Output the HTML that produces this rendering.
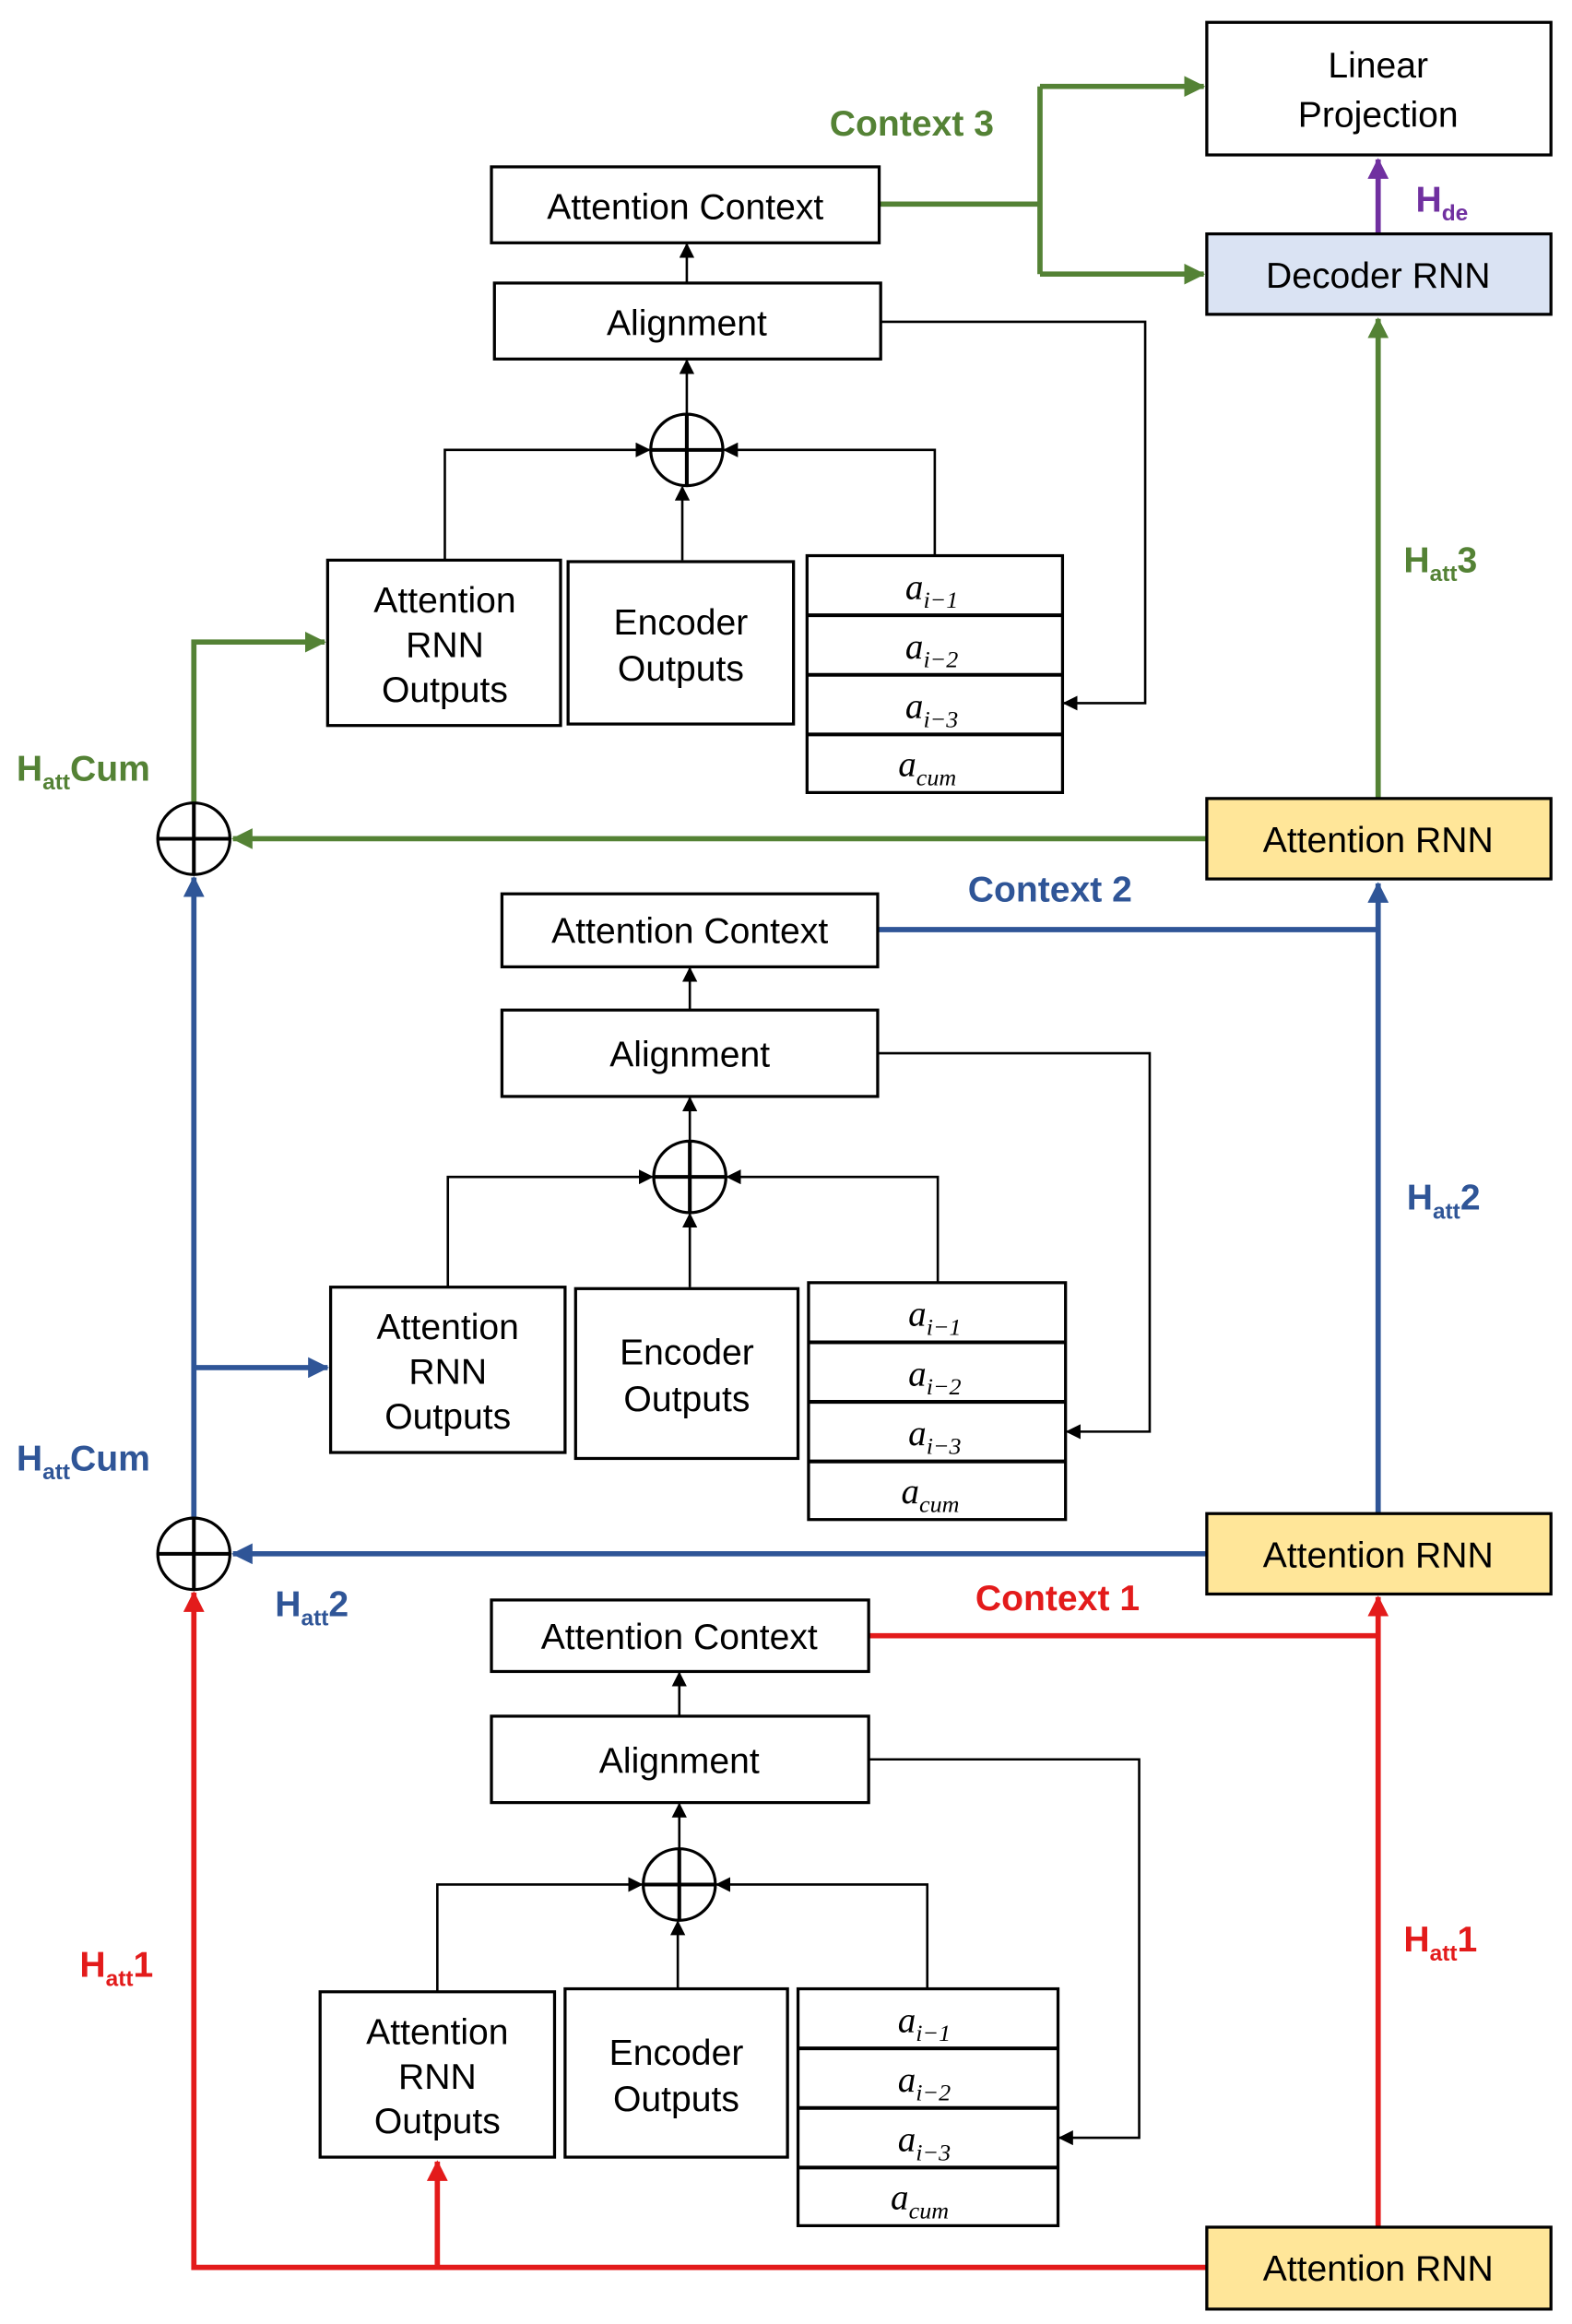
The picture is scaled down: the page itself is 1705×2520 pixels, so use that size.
<!DOCTYPE html>
<html><head><meta charset="utf-8"><style>html,body{margin:0;padding:0;background:#fff}svg{display:block}</style></head><body>
<svg width="1705" height="2520" viewBox="0 0 1046 1560" preserveAspectRatio="none" xmlns="http://www.w3.org/2000/svg" font-family="Liberation Sans, sans-serif">
<defs>
<marker id="k" markerWidth="10" markerHeight="10" refX="9" refY="5" orient="auto" markerUnits="userSpaceOnUse"><path d="M0,0 L10,5 L0,10 Z" fill="#000"/></marker>
<marker id="g" markerWidth="14" markerHeight="14" refX="13" refY="7" orient="auto" markerUnits="userSpaceOnUse"><path d="M0,0 L14,7 L0,14 Z" fill="#548235"/></marker>
<marker id="b" markerWidth="14" markerHeight="14" refX="13" refY="7" orient="auto" markerUnits="userSpaceOnUse"><path d="M0,0 L14,7 L0,14 Z" fill="#2f5597"/></marker>
<marker id="r" markerWidth="14" markerHeight="14" refX="13" refY="7" orient="auto" markerUnits="userSpaceOnUse"><path d="M0,0 L14,7 L0,14 Z" fill="#e31b1b"/></marker>
<marker id="p" markerWidth="14" markerHeight="14" refX="13" refY="7" orient="auto" markerUnits="userSpaceOnUse"><path d="M0,0 L14,7 L0,14 Z" fill="#7030a0"/></marker>
</defs>
<g fill="none" stroke-width="3.5">
<!-- green -->
<path d="M585,137 H692 M692,58 V184" stroke="#548235"/>
<path d="M692,58 H801" stroke="#548235" marker-end="url(#g)"/>
<path d="M692,184 H801" stroke="#548235" marker-end="url(#g)"/>
<path d="M917,536 V214" stroke="#548235" marker-end="url(#g)"/>
<path d="M803,563 H155" stroke="#548235" marker-end="url(#g)"/>
<path d="M129,539 V431 H216" stroke="#548235" marker-end="url(#g)"/>
<path d="M917,157 V107" stroke="#7030a0" marker-end="url(#p)"/>
<!-- blue -->
<path d="M584,624 H917" stroke="#2f5597"/>
<path d="M917,1016 V593" stroke="#2f5597" marker-end="url(#b)"/>
<path d="M803,1043 H155" stroke="#2f5597" marker-end="url(#b)"/>
<path d="M129,1019 V589" stroke="#2f5597" marker-end="url(#b)"/>
<path d="M129,918 H218" stroke="#2f5597" marker-end="url(#b)"/>
<!-- red -->
<path d="M578,1098 H917" stroke="#e31b1b"/>
<path d="M917,1495 V1072" stroke="#e31b1b" marker-end="url(#r)"/>
<path d="M803,1522 H129 V1069" stroke="#e31b1b" marker-end="url(#r)"/>
<path d="M291,1522 V1451" stroke="#e31b1b" marker-end="url(#r)"/>
</g>
<g fill="none" stroke="#000" stroke-width="1.6">
<!-- top block -->
<path d="M457,190 V164" marker-end="url(#k)"/>
<path d="M457,278 V242" marker-end="url(#k)"/>
<path d="M296,376 V302 H432" marker-end="url(#k)"/>
<path d="M622,373 V302 H482" marker-end="url(#k)"/>
<path d="M454,376 V327" marker-end="url(#k)"/>
<path d="M586,216 H762 V472 H708" marker-end="url(#k)"/>
<!-- middle -->
<path d="M459,678 V650" marker-end="url(#k)"/>
<path d="M459,766 V737" marker-end="url(#k)"/>
<path d="M298,864 V790 H434" marker-end="url(#k)"/>
<path d="M624,861 V790 H484" marker-end="url(#k)"/>
<path d="M459,864 V815" marker-end="url(#k)"/>
<path d="M584,707 H765 V961 H710" marker-end="url(#k)"/>
<!-- bottom -->
<path d="M452,1152 V1123" marker-end="url(#k)"/>
<path d="M452,1241 V1211" marker-end="url(#k)"/>
<path d="M291,1337 V1265 H427" marker-end="url(#k)"/>
<path d="M617,1335 V1265 H477" marker-end="url(#k)"/>
<path d="M451,1335 V1290" marker-end="url(#k)"/>
<path d="M578,1181 H758 V1435 H705" marker-end="url(#k)"/>
</g>
<g stroke="#000" stroke-width="2" fill="#fff">
<rect x="803" y="15" width="229" height="89"/>
<rect x="803" y="157" width="229" height="54" fill="#dae3f3"/>
<rect x="327" y="112" width="258" height="51"/>
<rect x="329" y="190" width="257" height="51"/>
<rect x="218" y="376" width="155" height="111"/>
<rect x="378" y="377" width="150" height="109"/>
<rect x="537" y="373" width="170" height="159"/>
<rect x="803" y="536" width="229" height="54" fill="#ffe699"/>
<rect x="334" y="600" width="250" height="49"/>
<rect x="334" y="678" width="250" height="58"/>
<rect x="220" y="864" width="156" height="111"/>
<rect x="383" y="865" width="148" height="114"/>
<rect x="538" y="861" width="171" height="159"/>
<rect x="803" y="1016" width="229" height="54" fill="#ffe699"/>
<rect x="327" y="1074" width="251" height="48"/>
<rect x="327" y="1152" width="251" height="58"/>
<rect x="213" y="1337" width="156" height="111"/>
<rect x="376" y="1335" width="148" height="113"/>
<rect x="531" y="1335" width="173" height="159"/>
<rect x="803" y="1495" width="229" height="55" fill="#ffe699"/>
<circle cx="457" cy="302" r="24"/><circle cx="459" cy="790" r="24"/><circle cx="452" cy="1265" r="24"/>
<circle cx="129" cy="563" r="24"/><circle cx="129" cy="1043" r="24"/>
</g>
<g stroke="#000" stroke-width="2.5">
<path d="M537,413 H707 M537,453 H707 M537,493 H707"/>
<path d="M538,901 H709 M538,941 H709 M538,981 H709"/>
<path d="M531,1375 H704 M531,1415 H704 M531,1455 H704"/>
<path d="M433,302 H481 M457,278 V326 M435,790 H483 M459,766 V814 M428,1265 H476 M452,1241 V1289"/>
<path d="M105,563 H153 M129,539 V587 M105,1043 H153 M129,1019 V1067"/>
</g>
<g font-size="24" text-anchor="middle" fill="#000">
<text x="917" y="52">Linear</text><text x="917" y="85">Projection</text>
<text x="917" y="193">Decoder RNN</text>
<text x="456" y="147">Attention Context</text>
<text x="457" y="225">Alignment</text>
<text x="296" y="411">Attention</text><text x="296" y="441">RNN</text><text x="296" y="471">Outputs</text>
<text x="453" y="426">Encoder</text><text x="453" y="457">Outputs</text>
<text x="917" y="572">Attention RNN</text>
<text x="459" y="633">Attention Context</text>
<text x="459" y="716">Alignment</text>
<text x="298" y="899">Attention</text><text x="298" y="929">RNN</text><text x="298" y="959">Outputs</text>
<text x="457" y="916">Encoder</text><text x="457" y="947">Outputs</text>
<text x="917" y="1052">Attention RNN</text>
<text x="452" y="1107">Attention Context</text>
<text x="452" y="1190">Alignment</text>
<text x="291" y="1372">Attention</text><text x="291" y="1402">RNN</text><text x="291" y="1432">Outputs</text>
<text x="450" y="1386">Encoder</text><text x="450" y="1417">Outputs</text>
<text x="917" y="1531">Attention RNN</text>
</g>
<g font-family="Liberation Serif, serif" font-style="italic" font-size="24" text-anchor="middle">
<text x="620" y="402">a<tspan font-size="16" dy="6">i−1</tspan></text>
<text x="620" y="442">a<tspan font-size="16" dy="6">i−2</tspan></text>
<text x="620" y="482">a<tspan font-size="16" dy="6">i−3</tspan></text>
<text x="617" y="521">a<tspan font-size="16" dy="6">cum</tspan></text>
<text x="622" y="890">a<tspan font-size="16" dy="6">i−1</tspan></text>
<text x="622" y="930">a<tspan font-size="16" dy="6">i−2</tspan></text>
<text x="622" y="970">a<tspan font-size="16" dy="6">i−3</tspan></text>
<text x="619" y="1009">a<tspan font-size="16" dy="6">cum</tspan></text>
<text x="615" y="1364">a<tspan font-size="16" dy="6">i−1</tspan></text>
<text x="615" y="1404">a<tspan font-size="16" dy="6">i−2</tspan></text>
<text x="615" y="1444">a<tspan font-size="16" dy="6">i−3</tspan></text>
<text x="612" y="1483">a<tspan font-size="16" dy="6">cum</tspan></text>
</g>
<g font-size="24" font-weight="bold">
<text x="552" y="91" fill="#548235">Context 3</text>
<text x="942" y="142" fill="#7030a0">H<tspan font-size="15" dy="6">de</tspan></text>
<text x="934" y="384" fill="#548235">H<tspan font-size="15" dy="6">att</tspan><tspan dy="-6">3</tspan></text>
<text x="11" y="524" fill="#548235">H<tspan font-size="15" dy="6">att</tspan><tspan dy="-6">Cum</tspan></text>
<text x="644" y="605" fill="#2f5597">Context 2</text>
<text x="936" y="812" fill="#2f5597">H<tspan font-size="15" dy="6">att</tspan><tspan dy="-6">2</tspan></text>
<text x="11" y="987" fill="#2f5597">H<tspan font-size="15" dy="6">att</tspan><tspan dy="-6">Cum</tspan></text>
<text x="183" y="1085" fill="#2f5597">H<tspan font-size="15" dy="6">att</tspan><tspan dy="-6">2</tspan></text>
<text x="649" y="1081" fill="#e31b1b">Context 1</text>
<text x="934" y="1310" fill="#e31b1b">H<tspan font-size="15" dy="6">att</tspan><tspan dy="-6">1</tspan></text>
<text x="53" y="1327" fill="#e31b1b">H<tspan font-size="15" dy="6">att</tspan><tspan dy="-6">1</tspan></text>
</g>
</svg>
</body></html>
